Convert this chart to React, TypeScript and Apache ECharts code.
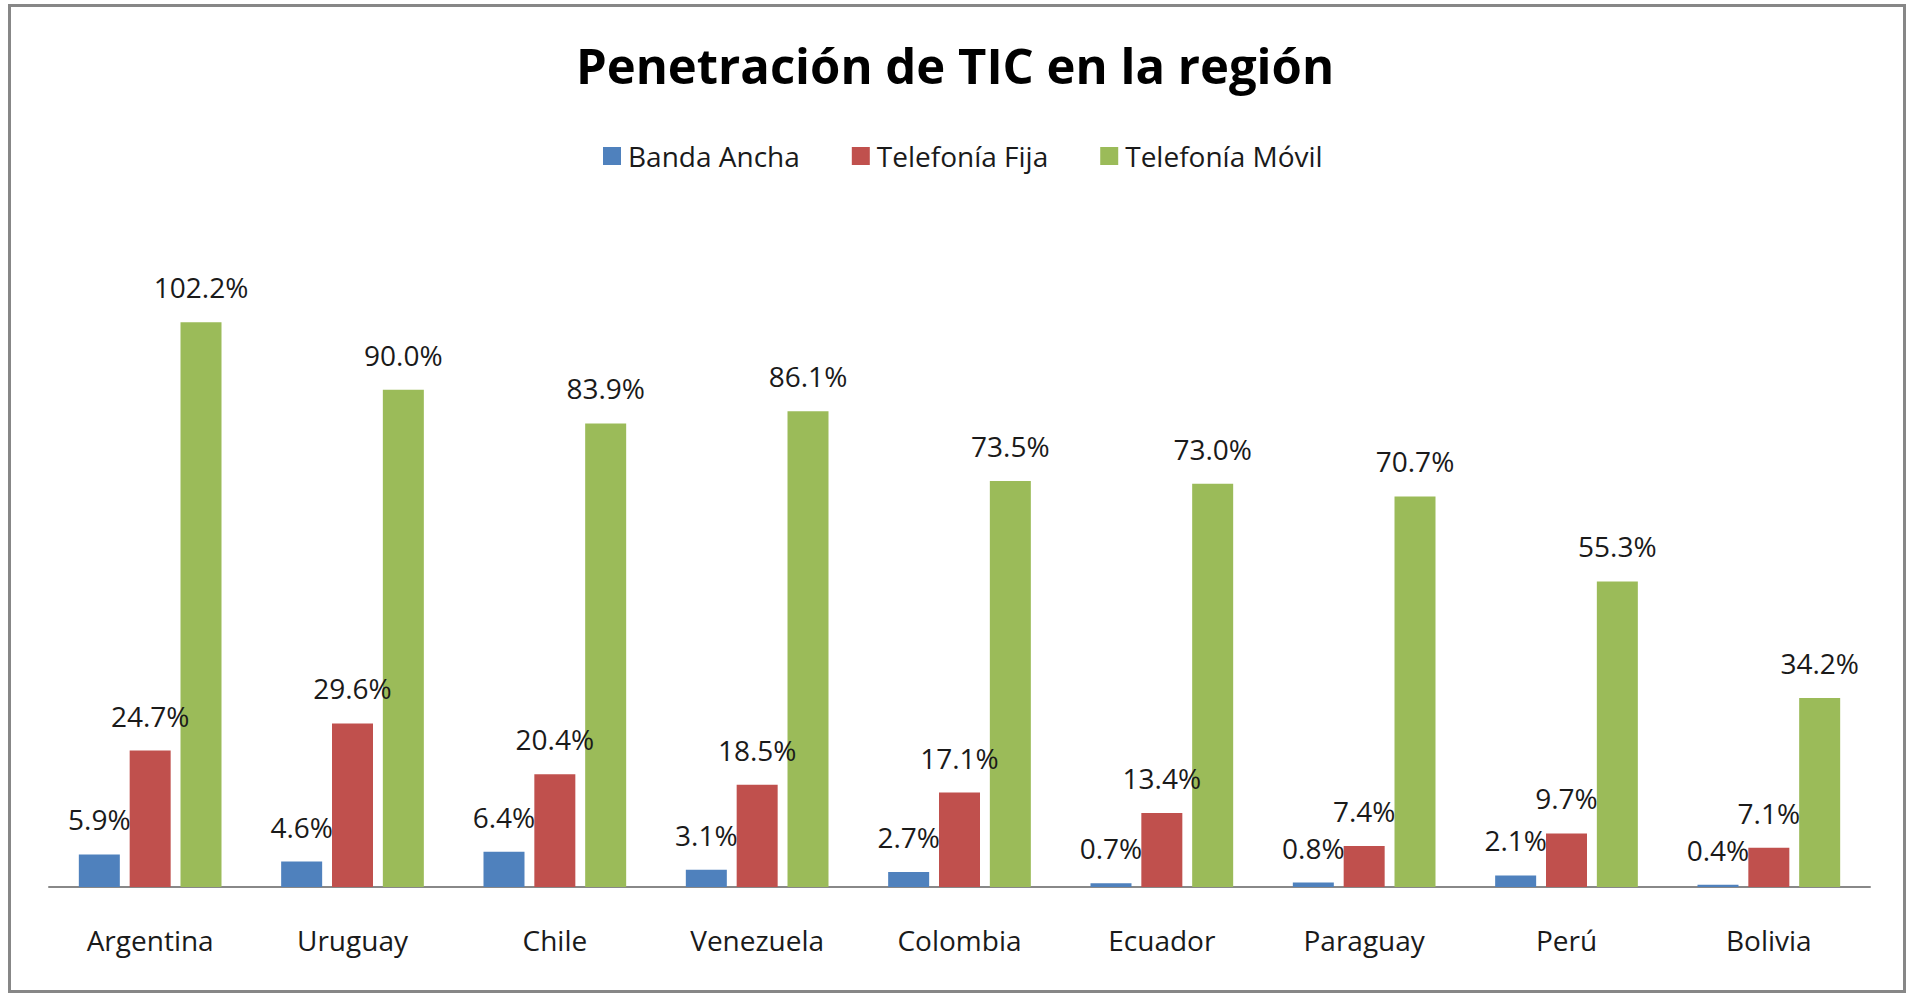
import React, { useEffect, useRef } from "react";
import * as echarts from "echarts";

const categories = ["Argentina", "Uruguay", "Chile", "Venezuela", "Colombia", "Ecuador", "Paraguay", "Perú", "Bolivia"];
const seriesNames = ["Banda Ancha", "Telefonía Fija", "Telefonía Móvil"];
const bandaAncha = [5.9, 4.6, 6.4, 3.1, 2.7, 0.7, 0.8, 2.1, 0.4];
const telefoniaFija = [24.7, 29.6, 20.4, 18.5, 17.1, 13.4, 7.4, 9.7, 7.1];
const telefoniaMovil = [102.2, 90.0, 83.9, 86.1, 73.5, 73.0, 70.7, 55.3, 34.2];
const colors = ["#4F81BD", "#C0504D", "#9BBB59"];

const FONT = "'Open Sans', 'Noto Sans', sans-serif";
const TEXT = "#1a1a1a";

export default function App() {
  const ref = useRef<HTMLDivElement>(null);
  useEffect(() => {
    if (!ref.current) return;
    const chart = echarts.init(ref.current, null, { renderer: "svg" });
    const values = [bandaAncha, telefoniaFija, telefoniaMovil];
    chart.setOption({
      animation: false,
      backgroundColor: "#ffffff",
      title: {
        text: "Penetración de TIC en la región",
        left: "center",
        top: 33,
        textStyle: { fontFamily: FONT, fontSize: 49, fontWeight: "bold", color: "#000", lineHeight: 54 },
      },
      legend: {
        left: 598,
        top: 136,
        itemWidth: 18,
        itemHeight: 18,
        itemGap: 52,
        icon: "rect",
        textStyle: { fontFamily: FONT, fontSize: 28, color: TEXT, lineHeight: 30, padding: [0, 0, 0, 2] },
        data: seriesNames,
      },
      grid: { left: 49, right: 40, top: 224, bottom: 106, containLabel: false },
      xAxis: {
        type: "category",
        data: categories,
        axisTick: { show: false },
        axisLine: { lineStyle: { color: "#888888", width: 2 } },
        axisLabel: { fontFamily: FONT, fontSize: 28, color: TEXT, margin: 36, lineHeight: 34 },
      },
      yAxis: { type: "value", min: 0, max: 120, show: false, splitLine: { show: false } },
      graphic: [
        {
          type: "rect",
          shape: { x: 9.5, y: 5.5, width: 1895, height: 986 },
          style: { fill: "none", stroke: "#878787", lineWidth: 3 },
          z: 100,
        },
      ],
      series: seriesNames.map((name, i) => ({
        name,
        type: "bar",
        data: values[i],
        barWidth: 41,
        barGap: "24%",
        itemStyle: { color: colors[i] },
        label: {
          show: true,
          position: "top",
          distance: 21,
          fontFamily: FONT,
          fontSize: 28,
          lineHeight: 28,
          color: TEXT,
          formatter: (p: any) => Number(p.value).toFixed(1) + "%",
        },
      })),
    });
    return () => chart.dispose();
  }, []);
  return <div ref={ref} style={{ position: "absolute", left: 0, top: 0, width: 1910, height: 993 }} />;
}
